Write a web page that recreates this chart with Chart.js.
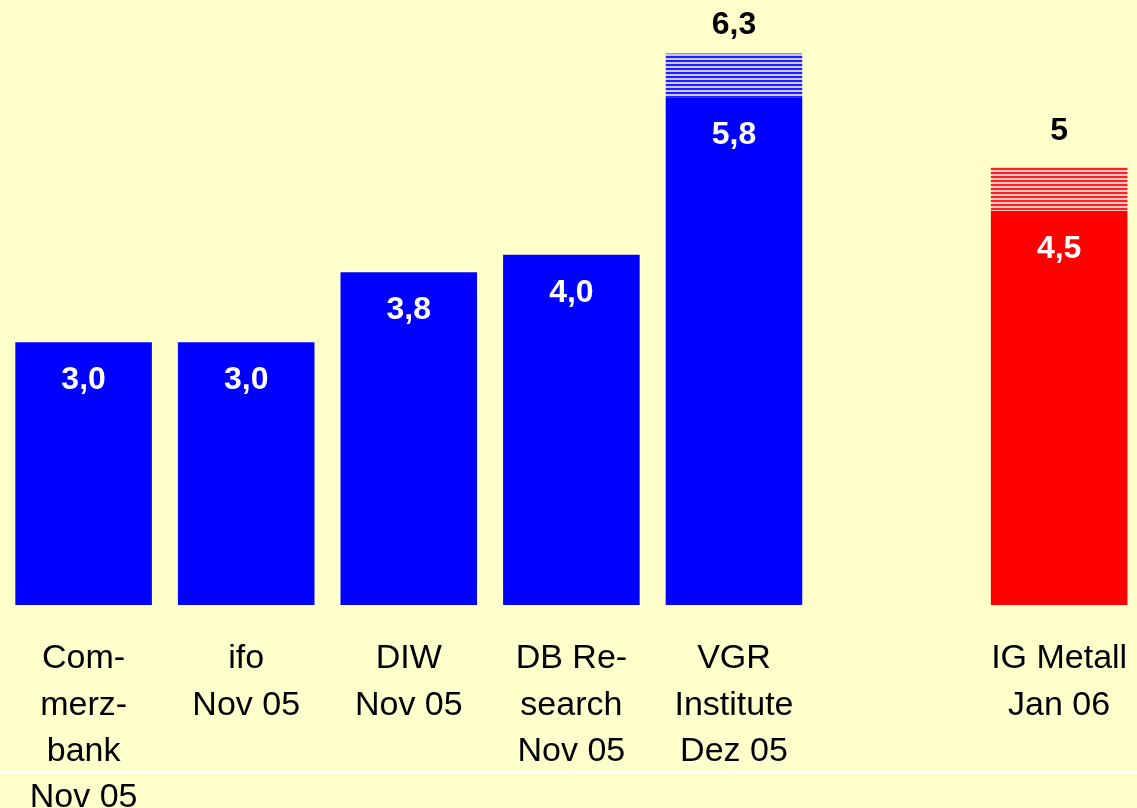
<!DOCTYPE html>
<html>
<head>
<meta charset="utf-8">
<script src="https://cdn.jsdelivr.net/npm/chart.js@4.4.1/dist/chart.umd.min.js"></script>
<style>
  html, body { margin: 0; padding: 0; background: #FFFFCC; overflow: hidden; }
  #wrap { position: relative; width: 1158px; height: 808px; }
  #rule { position: absolute; left: 0; top: 771px; width: 1137px; height: 2px; background: #ffffff; }
</style>
</head>
<body>
<div id="wrap">
  <canvas id="chart" width="1158" height="808"></canvas>
  <div id="rule"></div>
</div>
<script>
var categories = [
  ["Com-", "merz-", "bank", "Nov 05"],
  ["ifo", "Nov 05"],
  ["DIW", "Nov 05"],
  ["DB Re-", "search", "Nov 05"],
  ["VGR", "Institute", "Dez 05"],
  "",
  ["IG Metall", "Jan 06"]
];
var baseValues  = [3.0, 3.0, 3.8, 4.0, 5.8, null, 4.5];
var extraValues = [0, 0, 0, 0, 0.5, null, 0.5];
var innerLabels = ["3,0", "3,0", "3,8", "4,0", "5,8", "", "4,5"];
var topLabels   = ["", "", "", "", "6,3", "", "5"];
var barColors   = ["#0000FF", "#0000FF", "#0000FF", "#0000FF", "#0000FF", "#0000FF", "#FF0000"];

function stripes(color, light) {
  var c = document.createElement('canvas');
  c.width = 4; c.height = 4;
  var g = c.getContext('2d');
  g.fillStyle = color; g.fillRect(0, 0, 4, 2);
  g.fillStyle = light; g.fillRect(0, 2, 4, 2);
  return g.createPattern(c, 'repeat');
}
var blueStripes = stripes("#2020FF", "#C8C8FF");
var redStripes = stripes("#FF2020", "#FFC8C8");
var stripeColors = barColors.map(function(c) { return c === "#FF0000" ? redStripes : blueStripes; });

var labelPlugin = {
  id: 'valueLabels',
  afterDatasetsDraw: function(chart) {
    var ctx = chart.ctx;
    var base = chart.getDatasetMeta(0).data;
    var extra = chart.getDatasetMeta(1).data;
    ctx.save();
    ctx.textAlign = 'center';
    ctx.textBaseline = 'middle';
    ctx.font = 'bold 32px "Liberation Sans", Arial, sans-serif';
    for (var i = 0; i < base.length; i++) {
      if (baseValues[i] == null) continue;
      ctx.fillStyle = '#FFFFFF';
      ctx.fillText(innerLabels[i], base[i].x, base[i].y + 38);
      if (topLabels[i]) {
        ctx.fillStyle = '#000000';
        ctx.fillText(topLabels[i], extra[i].x, Math.max(25, extra[i].y - 36));
      }
    }
    ctx.restore();
  }
};

new Chart(document.getElementById('chart').getContext('2d'), {
  type: 'bar',
  data: {
    labels: categories,
    datasets: [
      { data: baseValues, backgroundColor: barColors, borderWidth: 0 },
      { data: extraValues, backgroundColor: stripeColors, borderWidth: 0 }
    ]
  },
  options: {
    responsive: false,
    animation: false,
    layout: { padding: 0 },
    plugins: { legend: { display: false }, tooltip: { enabled: false } },
    datasets: { bar: { barPercentage: 0.84, categoryPercentage: 1.0 } },
    scales: {
      x: {
        stacked: true,
        grid: { display: false, drawTicks: false },
        border: { display: false },
        ticks: {
          padding: 31,
          color: '#000000',
          maxRotation: 0,
          autoSkip: false,
          font: { family: '"Liberation Sans", Arial, sans-serif', size: 34, lineHeight: 1.36 }
        },
        afterFit: function(scale) { scale.height = 203; }
      },
      y: {
        stacked: true,
        display: false,
        min: 0,
        max: 6.91
      }
    }
  },
  plugins: [labelPlugin]
});
</script>
</body>
</html>
